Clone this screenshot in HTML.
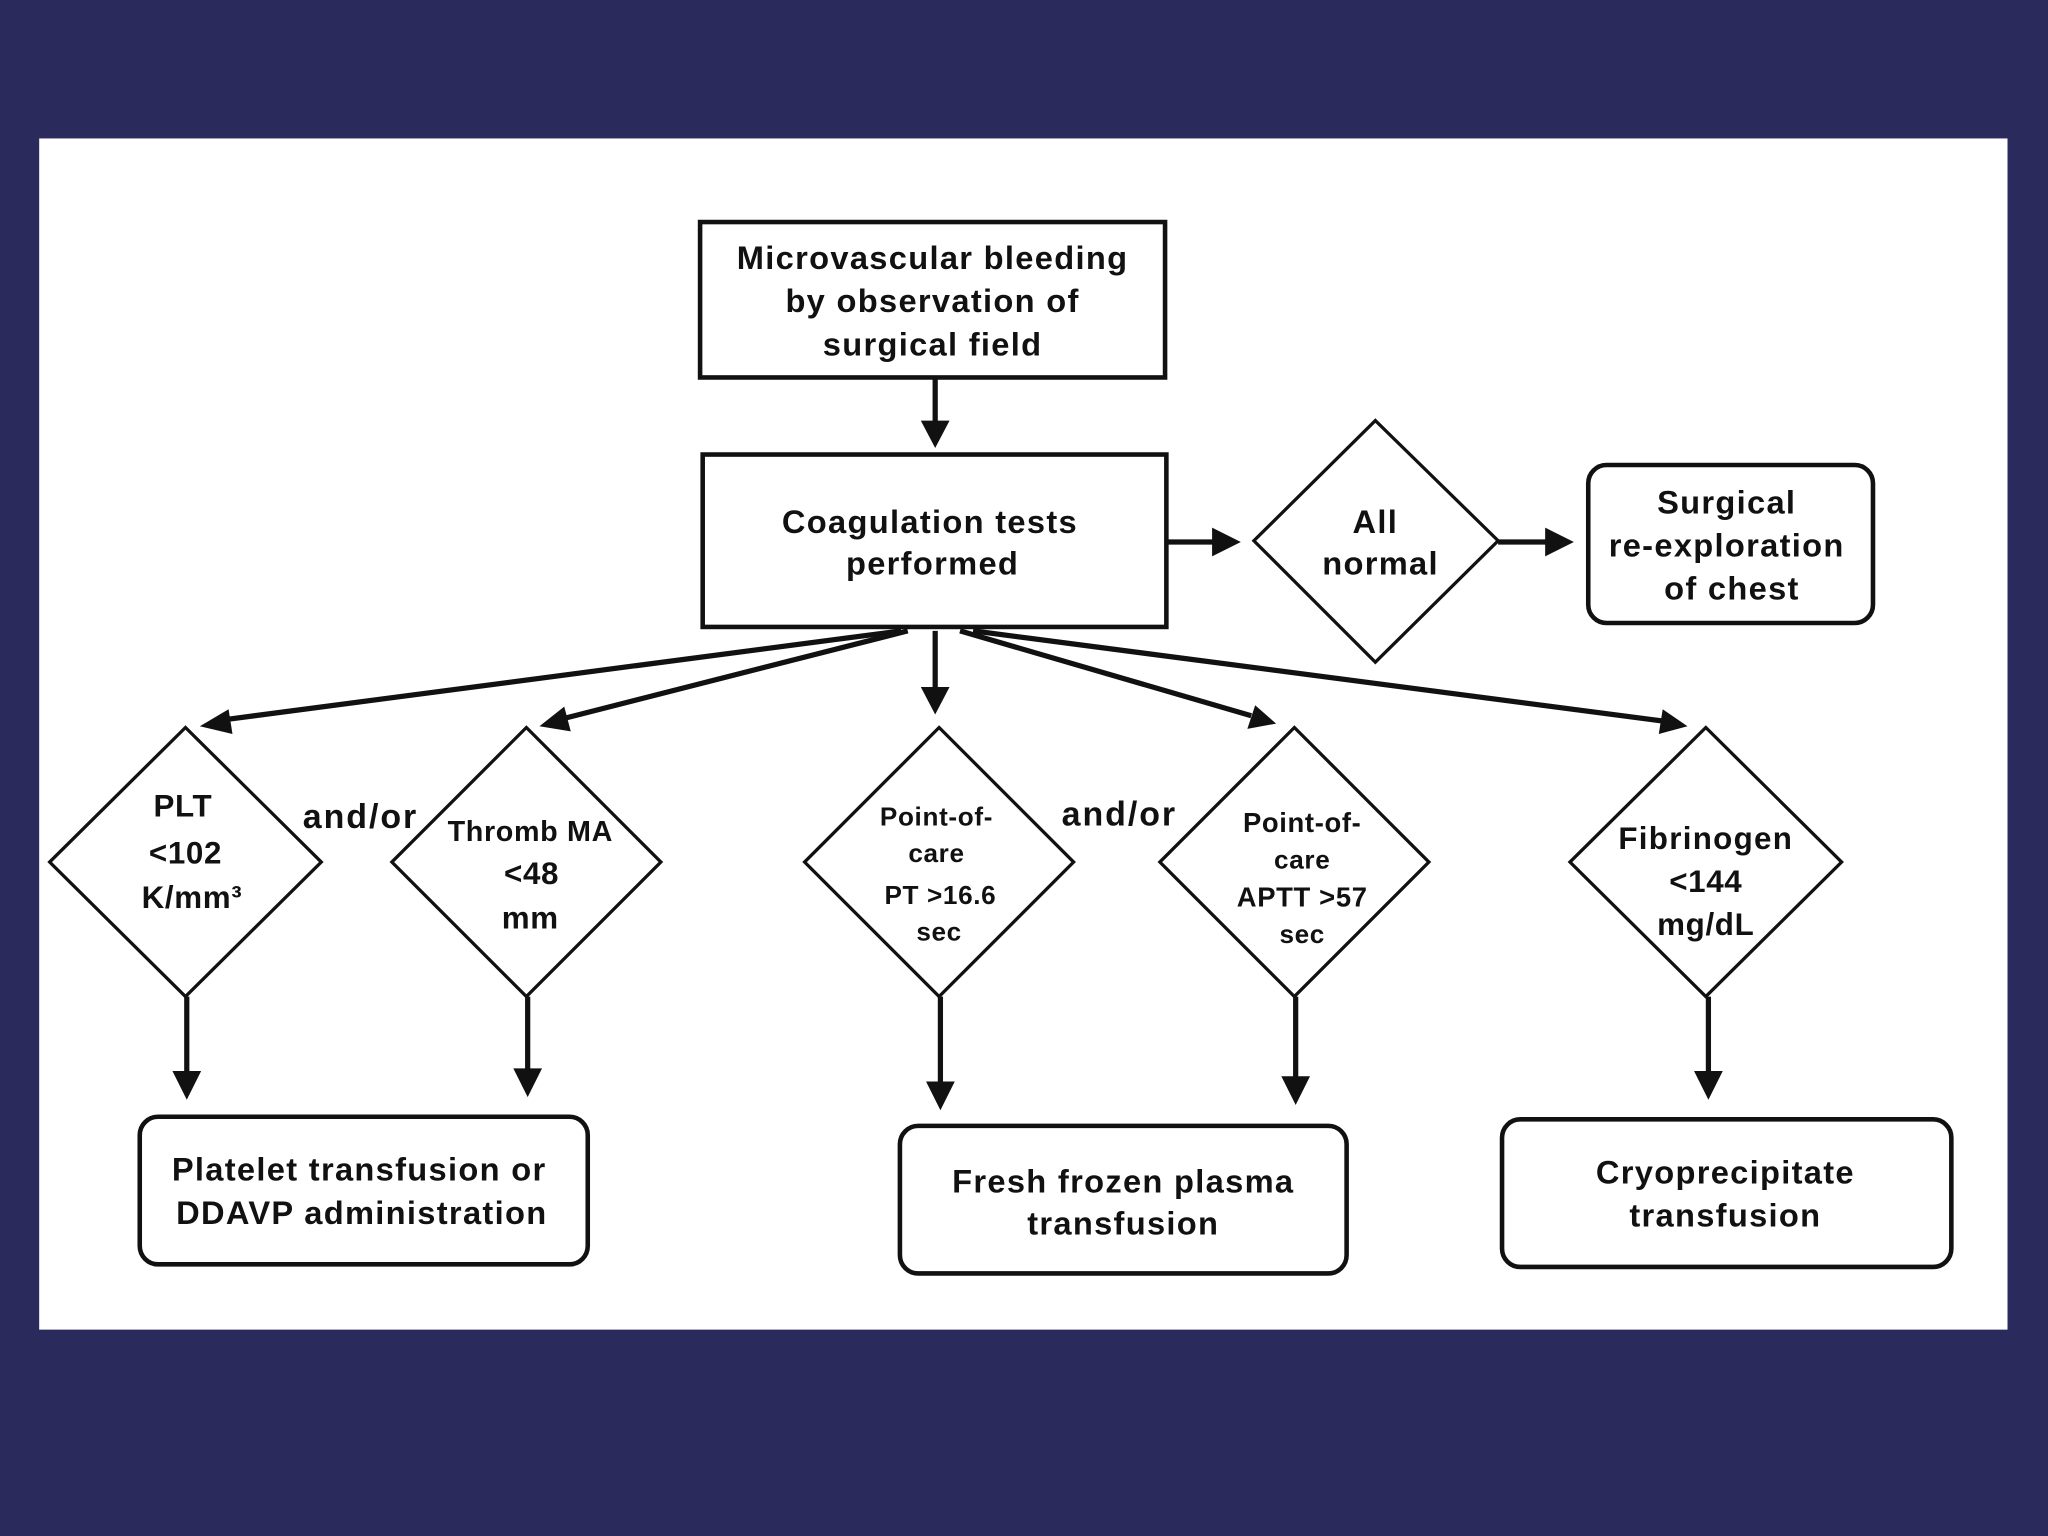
<!DOCTYPE html>
<html><head><meta charset="utf-8"><style>
html,body{margin:0;padding:0;background:#2b2a5c;}
svg{display:block}
text{font-family:"Liberation Sans",Arial,sans-serif;font-weight:bold;fill:#111;text-anchor:middle}
</style></head><body>
<svg width="2048" height="1536" viewBox="0 0 1568 1176" xmlns="http://www.w3.org/2000/svg">
<rect width="1568" height="1176" fill="#2b2a5c"/>
<rect x="30" y="106" width="1507" height="912" fill="#fff"/>
<g fill="none" stroke="#111" stroke-width="3.5">
<rect x="536" y="170" width="356" height="119"/>
<rect x="538" y="348" width="355" height="132"/>
<rect x="1216" y="356" width="218" height="121" rx="14"/>
<rect x="107" y="855" width="343" height="113" rx="14"/>
<rect x="689" y="862" width="342" height="113" rx="14"/>
<rect x="1150" y="857" width="344" height="113" rx="14"/>
</g>
<g fill="none" stroke="#111" stroke-width="2.5">
<polygon points="1053,322 1147,414 1053,507 960,414"/>
<polygon points="142,557 246,660 142,763 38,660"/>
<polygon points="403,557 506,660 403,763 300,660"/>
<polygon points="719,557 822,660 719,763 616,660"/>
<polygon points="991,557 1094,660 991,763 888,660"/>
<polygon points="1306,557 1410,660 1306,763 1202,660"/>
</g>
<g stroke="#111" stroke-width="4" fill="none">
<line x1="716" y1="289" x2="716" y2="325"/>
<line x1="893" y1="415" x2="930" y2="415"/>
<line x1="1147" y1="415" x2="1186" y2="415"/>
<line x1="690" y1="483" x2="172" y2="551"/>
<line x1="695" y1="483" x2="432" y2="550"/>
<line x1="716" y1="483" x2="716" y2="528"/>
<line x1="735" y1="483" x2="958" y2="548"/>
<line x1="745" y1="483" x2="1273" y2="552"/>
<line x1="143" y1="763" x2="143" y2="822"/>
<line x1="404" y1="763" x2="404" y2="820"/>
<line x1="720" y1="763" x2="720" y2="830"/>
<line x1="992" y1="763" x2="992" y2="826"/>
<line x1="1308" y1="763" x2="1308" y2="822"/>
</g>
<g fill="#111">
<polygon points="716,343 705,322 727,322"/>
<polygon points="950,415 928,404 928,426"/>
<polygon points="1205,415 1183,404 1183,426"/>
<polygon points="153,556 175,543 178,562"/>
<polygon points="413,556 432,541 437,560"/>
<polygon points="716,547 705,526 727,526"/>
<polygon points="977,554 955,558 961,540"/>
<polygon points="1292,556 1270,562 1273,543"/>
<polygon points="143,842 132,820 154,820"/>
<polygon points="404,840 393,818 415,818"/>
<polygon points="720,850 709,828 731,828"/>
<polygon points="992,846 981,824 1003,824"/>
<polygon points="1308,842 1297,820 1319,820"/>
</g>
<g font-size="25" letter-spacing="1">
<text x="714" y="206">Microvascular bleeding</text>
<text x="714" y="239">by observation of</text>
<text x="714" y="272">surgical field</text>
<text x="712" y="408">Coagulation tests</text>
<text x="714" y="440">performed</text>
<text x="1053" y="408">All</text>
<text x="1057" y="440">normal</text>
<text x="1322" y="393">Surgical</text>
<text x="1322" y="426">re-exploration</text>
<text x="1326" y="459">of chest</text>
<text x="275" y="904">Platelet transfusion or</text>
<text x="277" y="937">DDAVP administration</text>
<text x="860" y="913">Fresh frozen plasma</text>
<text x="860" y="945">transfusion</text>
<text x="1321" y="906">Cryoprecipitate</text>
<text x="1321" y="939">transfusion</text>
</g>
<g font-size="26" letter-spacing="1.5" font-weight="normal">
<text x="276" y="634">and/or</text>
<text x="857" y="632">and/or</text>
</g>
<g font-size="24" letter-spacing="0.5">
<text x="140" y="625">PLT</text>
<text x="142" y="661">&lt;102</text>
<text x="147" y="695">K/mm³</text>
<text x="406" y="644" font-size="22">Thromb MA</text>
<text x="407" y="677">&lt;48</text>
<text x="406" y="711">mm</text>
<text x="717" y="632" font-size="20">Point-of-</text>
<text x="717" y="660" font-size="20">care</text>
<text x="720" y="692" font-size="20">PT &gt;16.6</text>
<text x="719" y="720" font-size="20">sec</text>
<text x="997" y="637" font-size="21">Point-of-</text>
<text x="997" y="665" font-size="20">care</text>
<text x="997" y="694" font-size="21">APTT &gt;57</text>
<text x="997" y="722" font-size="20">sec</text>
<text x="1306" y="650" letter-spacing="1">Fibrinogen</text>
<text x="1306" y="683">&lt;144</text>
<text x="1306" y="716">mg/dL</text>
</g>
</svg>
</body></html>
